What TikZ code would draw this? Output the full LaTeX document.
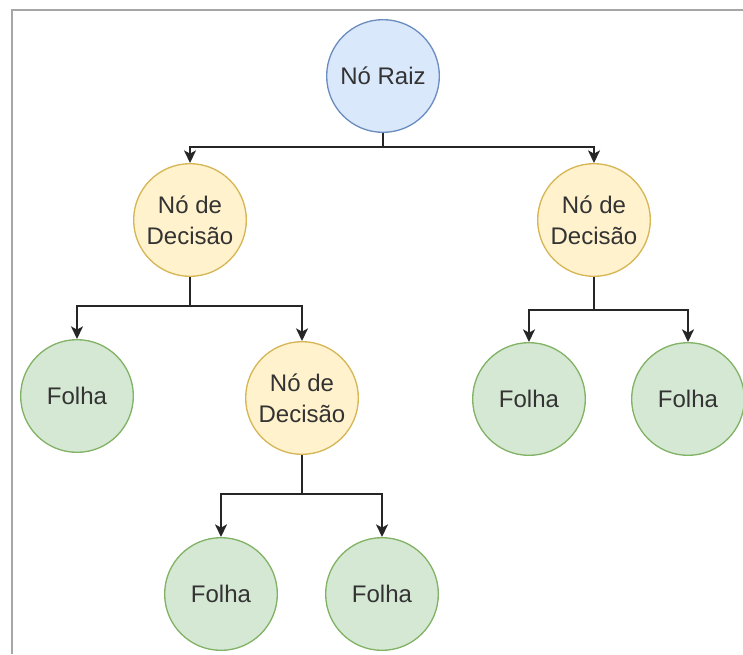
\documentclass[tikz,border=0pt]{standalone}
\usepackage{fontspec}
\setmainfont{Liberation Sans}
\usetikzlibrary{arrows.meta}
\definecolor{rootfill}{HTML}{DAE8FC}
\definecolor{rootline}{HTML}{6C8EBF}
\definecolor{decfill}{HTML}{FFF2CC}
\definecolor{decline}{HTML}{D6B656}
\definecolor{leaffill}{HTML}{D5E8D4}
\definecolor{leafline}{HTML}{82B366}
\definecolor{framegray}{HTML}{A6A6A6}
\definecolor{txt}{HTML}{333333}
\tikzset{
  treenode/.style={circle, inner sep=0pt, minimum size=84.5pt, line width=1pt,
    align=center, text=txt, font=\fontsize{18}{23.5}\selectfont},
  rootnode/.style={treenode, fill=rootfill, draw=rootline},
  decnode/.style={treenode, fill=decfill, draw=decline},
  leafnode/.style={treenode, fill=leaffill, draw=leafline},
  link/.style={line width=1.4pt, draw=black!85},
  arr/.style={link, -{Stealth[length=9.5pt, width=9pt, inset=2.5pt]}},
}
\begin{document}
\begin{tikzpicture}[x=0.75pt, y=-0.75pt]
  \useasboundingbox (0,0) rectangle (743,654);
  % outer frame (top and left edges)
  \draw[framegray, line width=1.5pt] (12,654) -- (12,10) -- (743,10);

  % nodes
  \node[rootnode] (root) at (383,76) {Nó Raiz};
  \node[decnode] (dl) at (190,220) {Nó de\\Decisão};
  \node[decnode] (dr) at (594,220) {Nó de\\Decisão};
  \node[leafnode] (fl) at (77,396) {Folha};
  \node[decnode] (dm) at (302,398) {Nó de\\Decisão};
  \node[leafnode] (fr1) at (529,399) {Folha};
  \node[leafnode] (fr2) at (688,399) {Folha};
  \node[leafnode] (fb1) at (221,594) {Folha};
  \node[leafnode] (fb2) at (382,594) {Folha};

  % branch junctions
  \coordinate (j0) at (383,147);
  \coordinate (jl) at (190,306);
  \coordinate (jr) at (594,310);
  \coordinate (jm) at (302,494);

  % connectors
  \draw[link] (root) -- (j0);
  \draw[arr] (j0) -| (dl);
  \draw[arr] (j0) -| (dr);

  \draw[link] (dl) -- (jl);
  \draw[arr] (jl) -| (fl);
  \draw[arr] (jl) -| (dm);

  \draw[link] (dr) -- (jr);
  \draw[arr] (jr) -| (fr1);
  \draw[arr] (jr) -| (fr2);

  \draw[link] (dm) -- (jm);
  \draw[arr] (jm) -| (fb1);
  \draw[arr] (jm) -| (fb2);
\end{tikzpicture}
\end{document}
